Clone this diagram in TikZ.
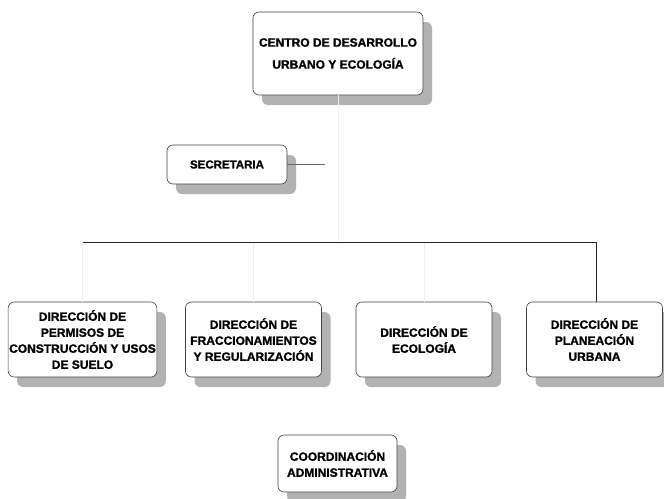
\documentclass[tikz,border=0pt]{standalone}
\usepackage{fontspec}
\setmainfont{Liberation Sans}[BoldFeatures={FakeBold=1.3}]
\usetikzlibrary{shadows}
\definecolor{shade}{RGB}{178,178,178}
\definecolor{faintline}{RGB}{240,240,240}
\tikzset{
  unitbox/.style={draw=black!75, line width=0.6pt, fill=white, rounded corners=6pt,
    align=center, inner sep=1pt, font=\bfseries\fontsize{12}{16}\selectfont,
    drop shadow={shadow xshift=9pt, shadow yshift=-10pt, fill=shade, opacity=1},
    minimum width=136pt, minimum height=75pt},
  link/.style={draw=black!85, line width=0.7pt},
  ghost/.style={draw=faintline, line width=0.7pt}
}
\begin{document}
\begin{tikzpicture}[x=1pt,y=-1pt]
\useasboundingbox (0,0) rectangle (664,498);
% top
\node[unitbox, minimum width=170pt, minimum height=83pt, font=\bfseries\fontsize{12}{22}\selectfont]
  (centro) at (338,53.5) {CENTRO DE DESARROLLO\\URBANO Y ECOLOGÍA};
\node[unitbox, minimum width=120pt, minimum height=39pt, font=\bfseries\fontsize{11.5}{14}\selectfont]
  (secre) at (227,164.5) {SECRETARIA};
\coordinate (secend) at (325,164.5);
\draw[link, draw=black!60] (secre) -- (secend);
% direcciones
\foreach \x/\nm/\txt in {82.5/permisos/{DIRECCIÓN DE\\PERMISOS DE\\CONSTRUCCIÓN Y USOS\\DE SUELO},
    253.5/fracc/{DIRECCIÓN DE\\FRACCIONAMIENTOS\\Y REGULARIZACIÓN},
    424/ecol/{DIRECCIÓN DE\\ECOLOGÍA},
    594.5/planea/{DIRECCIÓN DE\\PLANEACIÓN\\URBANA}}{
  \node[unitbox] (\nm) at (\x,339.5) {\txt};
}
\coordinate (busl) at (82.5,242);
\coordinate (busr) at (596,242);
\draw[ghost] (centro) -- (centro |- busl);
\foreach \nm in {permisos,fracc,ecol}{
  \draw[ghost] (\nm.north) -- (\nm.north |- busl);
}
\draw[link] (busl) -- (busr) -- (busr |- planea.north);
% coordinacion
\node[unitbox, minimum width=119pt, minimum height=57pt] (coord) at (337.5,463.5) {COORDINACIÓN\\ADMINISTRATIVA};
\end{tikzpicture}
\end{document}
